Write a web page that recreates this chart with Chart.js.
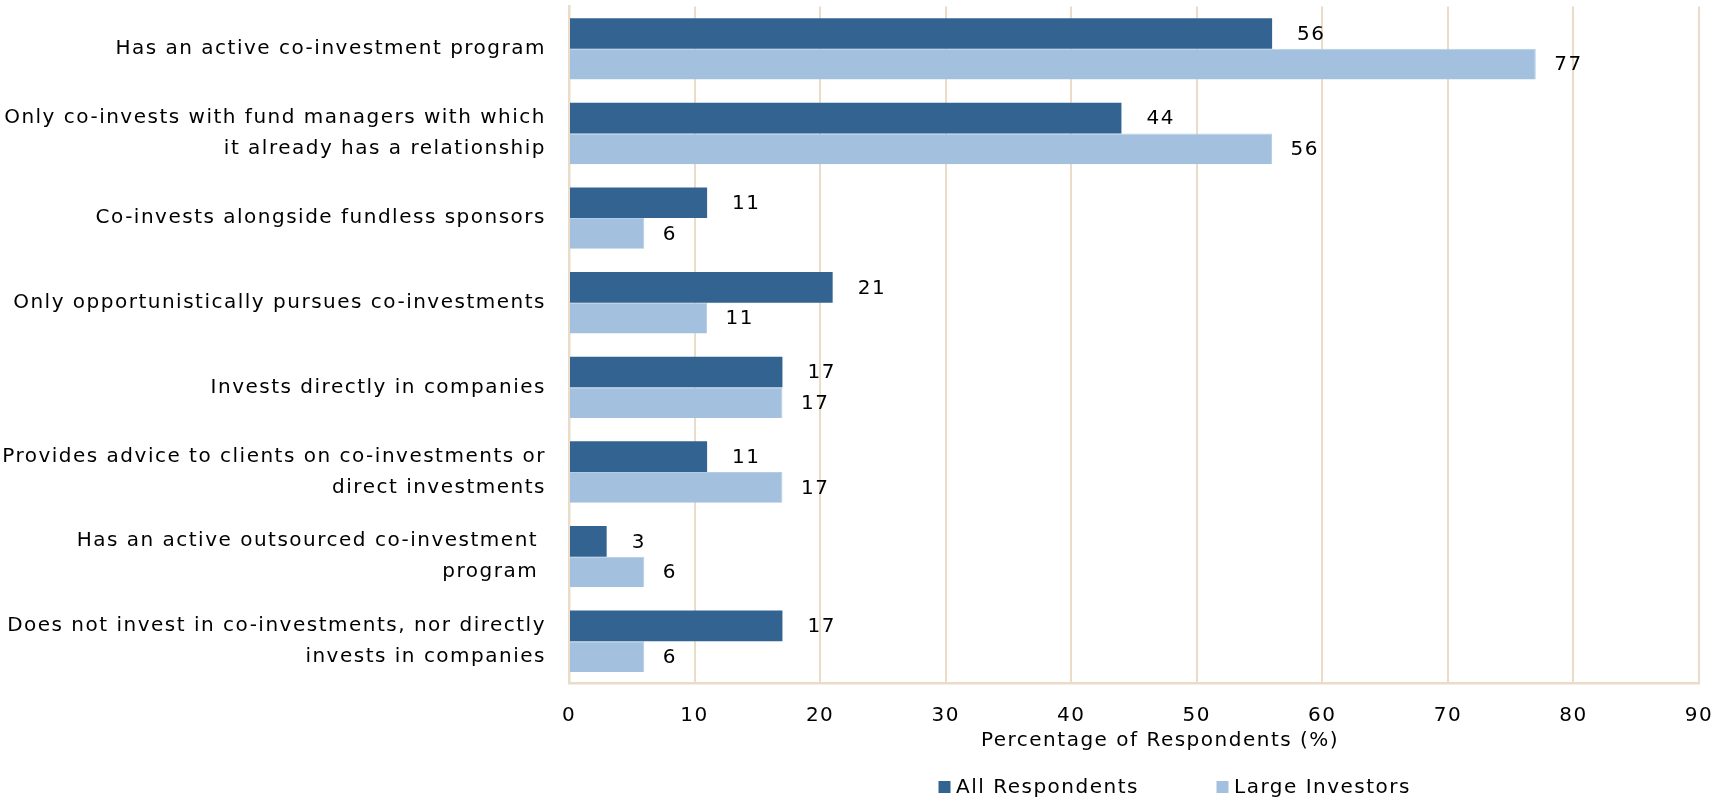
<!DOCTYPE html>
<html>
<head>
<meta charset="utf-8">
<title>Co-investment activity</title>
<script src="https://cdn.jsdelivr.net/npm/chart.js@4.4.1/dist/chart.umd.min.js"></script>
<style>
  html, body { margin: 0; padding: 0; background: #ffffff; }
  #wrap { width: 1729px; height: 800px; position: relative; }
</style>
</head>
<body>
<div id="wrap"><canvas id="chart" width="1729" height="800"></canvas></div>
<script>
// Survey answers (one entry per row, top to bottom)
const categories = [
  'Has an active co-investment program',
  ['Only co-invests with fund managers with which', 'it already has a relationship'],
  'Co-invests alongside fundless sponsors',
  'Only opportunistically pursues co-investments',
  'Invests directly in companies',
  ['Provides advice to clients on co-investments or', 'direct investments'],
  ['Has an active outsourced co-investment ', 'program '],
  ['Does not invest in co-investments, nor directly', 'invests in companies']
];

// Share of respondents (%)
const allRespondents = [56, 44, 11, 21, 17, 11, 3, 17];
const largeInvestors = [77, 56, 6, 11, 17, 17, 6, 6];

// Horizontal axis
const xTickValues = [0, 10, 20, 30, 40, 50, 60, 70, 80, 90];
const seriesNames = ['All Respondents', 'Large Investors'];
const xAxisTitle = 'Percentage of Respondents (%)';

const FONT = 'DejaVu Sans';
const DARK = '#336391';
const LIGHT = '#A3C1DF';
const LIGHT_EDGE = '#B3CDE6';
const GRID = '#EADCC8';

// Wider tracking on all canvas text
const trackingPlugin = {
  id: 'tracking',
  beforeLayout(chart) { chart.ctx.letterSpacing = '1.5px'; },
  beforeDraw(chart) { chart.ctx.letterSpacing = '1.5px'; }
};

// Value printed just past the end of each bar
const valueLabels = {
  id: 'valueLabels',
  afterDatasetsDraw(chart, args, opts) {
    const ctx = chart.ctx;
    ctx.save();
    ctx.font = '20px "' + FONT + '"';
    ctx.fillStyle = '#000';
    ctx.textAlign = 'left';
    ctx.textBaseline = 'middle';
    chart.data.datasets.forEach((ds, i) => {
      const meta = chart.getDatasetMeta(i);
      meta.data.forEach((bar, j) => {
        ctx.fillText(String(ds.data[j]), bar.x + opts.offsets[i], bar.y + 1);
      });
    });
    ctx.restore();
  }
};

// Axis title and legend row under the horizontal axis
const bottomText = {
  id: 'bottomText',
  afterDraw(chart, args, opts) {
    const ctx = chart.ctx;
    ctx.save();
    ctx.font = '20px "' + FONT + '"';
    ctx.textBaseline = 'middle';
    ctx.fillStyle = '#000';
    ctx.textAlign = 'center';
    ctx.fillText(xAxisTitle, opts.titleX, opts.titleY);
    ctx.textAlign = 'left';
    chart.data.datasets.forEach((ds, i) => {
      const x = opts.legendStarts[i];
      ctx.fillStyle = ds.backgroundColor;
      ctx.fillRect(x, opts.legendY - 6, 12, 12);
      ctx.fillStyle = '#000';
      ctx.fillText(ds.label, x + 17.5, opts.legendY + 1);
    });
    ctx.restore();
  }
};

new Chart(document.getElementById('chart'), {
  type: 'bar',
  data: {
    labels: categories,
    datasets: [
      { label: seriesNames[0], data: allRespondents, backgroundColor: DARK,
        barPercentage: 1, categoryPercentage: 0.725 },
      { label: seriesNames[1], data: largeInvestors, backgroundColor: LIGHT,
        borderColor: LIGHT_EDGE, borderWidth: { top: 1, right: 1, bottom: 0, left: 0 },
        barPercentage: 1, categoryPercentage: 0.725 }
    ]
  },
  options: {
    indexAxis: 'y',
    responsive: false,
    animation: false,
    devicePixelRatio: 1,
    layout: { padding: { top: 6.5, right: 30, left: 0, bottom: 0 } },
    plugins: {
      legend: { display: false },
      tooltip: { enabled: false },
      valueLabels: { offsets: [25, 18.5] },
      bottomText: { titleX: 1160, titleY: 741, legendStarts: [938.5, 1216.5], legendY: 787 }
    },
    scales: {
      x: {
        type: 'linear',
        min: xTickValues[0],
        max: xTickValues[xTickValues.length - 1],
        afterBuildTicks(scale) { scale.ticks = xTickValues.map(v => ({ value: v })); },
        afterFit(scale) {
          scale.height = 116.4;
          scale.paddingLeft = 0;
          scale.paddingRight = 0;
        },
        ticks: {
          color: '#000',
          font: { family: FONT, size: 20, lineHeight: 1.2 },
          padding: 20.4,
          maxRotation: 0
        },
        grid: { color: GRID, lineWidth: 2, drawTicks: false },
        border: { color: GRID, width: 2.5 },
        title: { display: false }
      },
      y: {
        type: 'category',
        afterFit(scale) {
          scale.width = 569;
          scale.paddingTop = 0;
          scale.paddingBottom = 0;
        },
        ticks: {
          color: '#000',
          font: { family: FONT, size: 20, lineHeight: 1.55 },
          padding: 23,
          autoSkip: false
        },
        grid: { display: false, drawTicks: false },
        border: { color: GRID, width: 2.5 }
      }
    }
  },
  plugins: [trackingPlugin, valueLabels, bottomText]
});
</script>
</body>
</html>
